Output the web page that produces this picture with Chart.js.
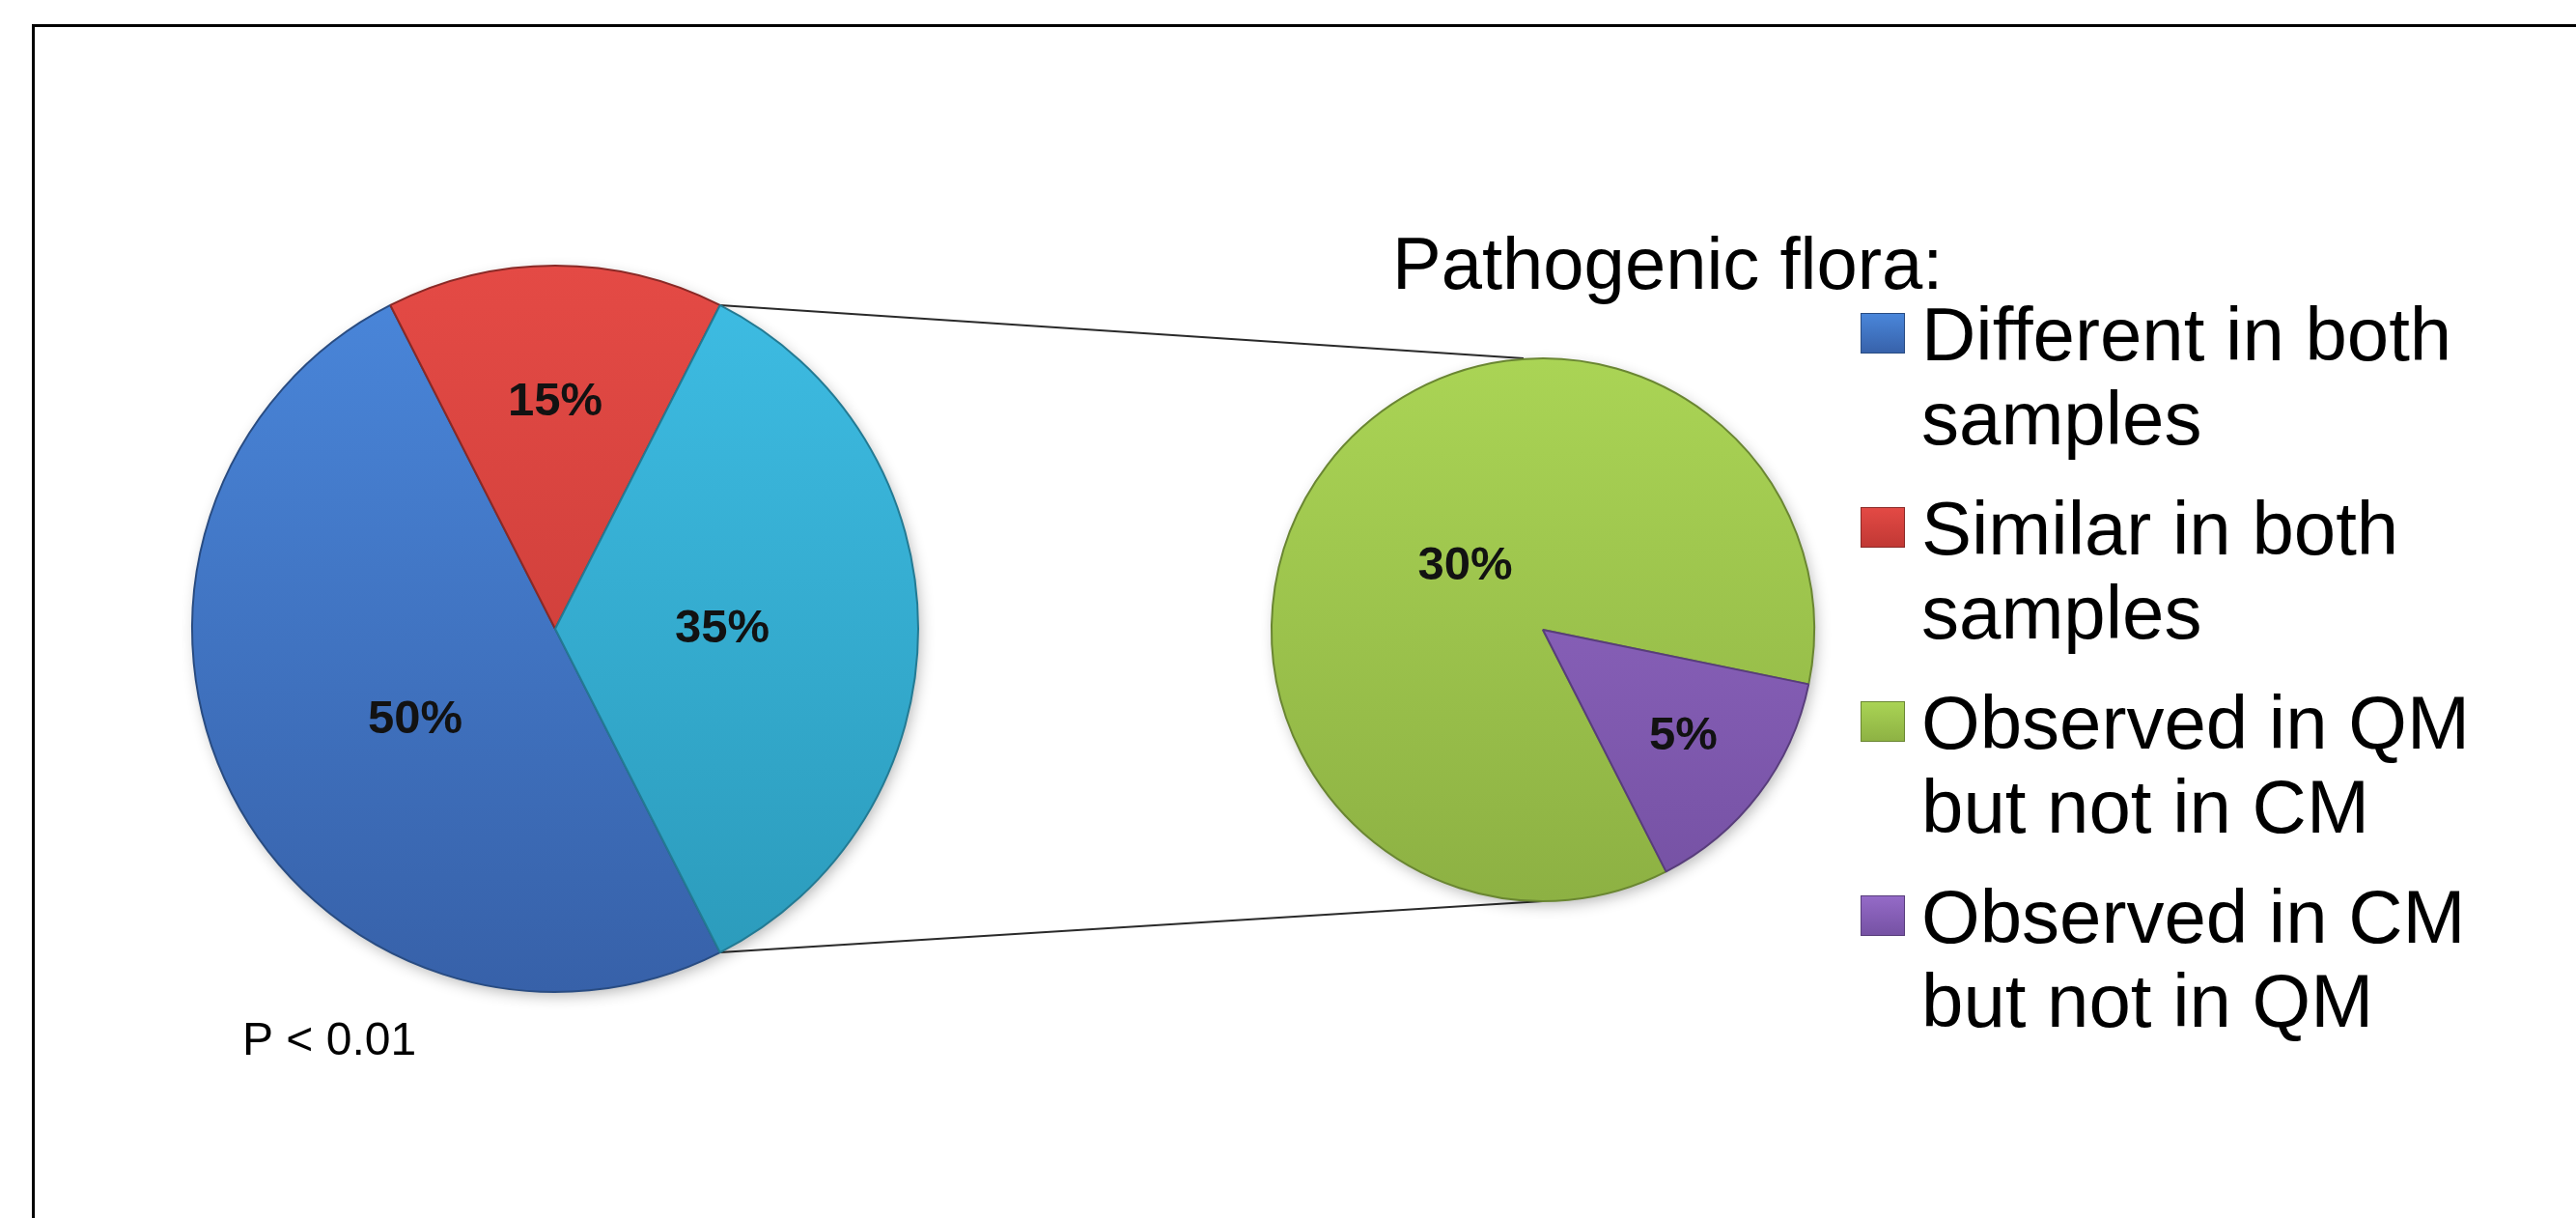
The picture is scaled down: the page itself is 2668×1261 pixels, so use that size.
<!DOCTYPE html>
<html>
<head>
<meta charset="utf-8">
<title>Pathogenic flora</title>
<script src="https://cdn.jsdelivr.net/npm/chart.js@4.4.1/dist/chart.umd.min.js"></script>
<style>
  html, body { margin: 0; padding: 0; background: #ffffff; }
  #page { position: relative; width: 2668px; height: 1261px; overflow: hidden; background: #ffffff; }
  #frame { position: absolute; left: 33px; top: 25px; right: -10px; bottom: -10px;
           border-top: 3px solid #000; border-left: 3px solid #000; }
  canvas { position: absolute; }
</style>
</head>
<body>
<div id="page">
  <div id="frame"></div>
  <canvas id="overlay" width="2668" height="1261" style="left:0;top:0"></canvas>
  <canvas id="mainPie" width="800" height="800" style="left:175px;top:251px"></canvas>
  <canvas id="subPie" width="600" height="600" style="left:1298px;top:352px"></canvas>
</div>
<script>
// ---- data ----
const mainLabels = ['Different in both samples', 'Similar in both samples', 'Other'];
const mainValues = [50, 15, 35];
const subLabels = ['Observed in QM but not in CM', 'Observed in CM but not in QM'];
const subValues = [30, 5];
const legendLines = [
  ['Different in both', 'samples'],
  ['Similar in both', 'samples'],
  ['Observed in QM', 'but not in CM'],
  ['Observed in CM', 'but not in QM']
];
const titleText = 'Pathogenic flora:';
const noteText = 'P < 0.01';

// ---- styles ----
const FONT = '"Liberation Sans", Arial, Helvetica, sans-serif';
// [light, dark, edge] per slice
const mainPalette = [
  ['#4a87db', '#3761a9', '#294c82'],
  ['#e44a45', '#c03834', '#8a2926'],
  ['#3ebde4', '#2b9aba', '#237a93']
];
const subPalette = [
  ['#aad455', '#8db143', '#6a8632'],
  ['#956bc8', '#7551a3', '#583d7b']
];
// label placement: fraction of the radius, and a small turn (degrees) from the slice middle
const mainLabelDepth = [0.46, 0.625, 0.46];
const mainLabelTurn = [-6, 0, 0];
const subLabelDepth = [0.37, 0.65];
const subLabelTurn = [2, 0];

function gradientFill(palette, radius) {
  return (c) => {
    const chart = c.chart;
    const area = chart.chartArea;
    const p = palette[c.dataIndex % palette.length];
    if (!area) return p[0];
    const cy = (area.top + area.bottom) / 2;
    const g = chart.ctx.createLinearGradient(0, cy - radius, 0, cy + radius);
    g.addColorStop(0, p[0]);
    g.addColorStop(1, p[1]);
    return g;
  };
}

// soft drop shadow behind the whole pie
const pieShadow = {
  id: 'pieShadow',
  beforeDatasetsDraw(chart) {
    const arc = chart.getDatasetMeta(0).data[0];
    if (!arc) return;
    const ctx = chart.ctx;
    ctx.save();
    ctx.shadowColor = 'rgba(0,0,0,0.32)';
    ctx.shadowBlur = 16;
    ctx.shadowOffsetX = 3;
    ctx.shadowOffsetY = 5;
    ctx.beginPath();
    ctx.arc(arc.x, arc.y, arc.outerRadius - 2, 0, Math.PI * 2);
    ctx.fillStyle = '#777';
    ctx.fill();
    ctx.restore();
  }
};

// percentage labels placed inside each slice
const sliceLabels = {
  id: 'sliceLabels',
  afterDatasetsDraw(chart, args, opts) {
    const meta = chart.getDatasetMeta(0);
    const values = chart.data.datasets[0].data;
    const ctx = chart.ctx;
    ctx.save();
    ctx.font = opts.font;
    ctx.fillStyle = opts.color;
    ctx.textAlign = 'center';
    ctx.textBaseline = 'middle';
    meta.data.forEach((arc, i) => {
      const p = arc.getProps(['x', 'y', 'startAngle', 'endAngle', 'outerRadius'], true);
      const mid = (p.startAngle + p.endAngle) / 2 + opts.turn[i] * Math.PI / 180;
      const r = p.outerRadius * opts.depth[i];
      ctx.fillText(values[i] + '%', p.x + Math.cos(mid) * r, p.y + Math.sin(mid) * r);
    });
    ctx.restore();
  }
};

function pieConfig(labels, values, palette, radius, depth, turn) {
  return {
    type: 'pie',
    data: {
      labels: labels,
      datasets: [{
        data: values,
        backgroundColor: gradientFill(palette, radius),
        borderColor: palette.map(p => p[2]),
        borderWidth: 2
      }]
    },
    options: {
      responsive: false,
      animation: false,
      events: [],
      rotation: 153,
      radius: radius,
      layout: { padding: 0 },
      plugins: {
        legend: { display: false },
        tooltip: { enabled: false },
        sliceLabels: { font: 'bold 49px ' + FONT, color: '#121212', depth: depth, turn: turn }
      }
    },
    plugins: [pieShadow, sliceLabels]
  };
}

const mainChart = new Chart(document.getElementById('mainPie'),
  pieConfig(mainLabels, mainValues, mainPalette, 376, mainLabelDepth, mainLabelTurn));
const subChart = new Chart(document.getElementById('subPie'),
  pieConfig(subLabels, subValues, subPalette, 281, subLabelDepth, subLabelTurn));

// ---- connectors, title, legend and note ----
function pagePoint(chart, x, y) {
  const c = chart.canvas;
  return [c.offsetLeft + x, c.offsetTop + y];
}

function drawOverlay() {
  const ctx = document.getElementById('overlay').getContext('2d');

  // lines from the split-off slice to the secondary pie
  const other = mainChart.getDatasetMeta(0).data[2];
  const a = other.getProps(['x', 'y', 'startAngle', 'endAngle', 'outerRadius'], true);
  const sub = subChart.getDatasetMeta(0).data[0];
  const b = sub.getProps(['x', 'y', 'outerRadius'], true);
  const p1 = pagePoint(mainChart, a.x + Math.cos(a.startAngle) * a.outerRadius, a.y + Math.sin(a.startAngle) * a.outerRadius);
  const p2 = pagePoint(mainChart, a.x + Math.cos(a.endAngle) * a.outerRadius, a.y + Math.sin(a.endAngle) * a.outerRadius);
  const q1 = pagePoint(subChart, b.x - 20, b.y - b.outerRadius);
  const q2 = pagePoint(subChart, b.x, b.y + b.outerRadius);
  ctx.save();
  ctx.strokeStyle = '#2a2a2a';
  ctx.lineWidth = 2;
  ctx.beginPath();
  ctx.moveTo(p1[0], p1[1]); ctx.lineTo(q1[0], q1[1]);
  ctx.moveTo(p2[0], p2[1]); ctx.lineTo(q2[0], q2[1]);
  ctx.stroke();
  ctx.restore();

  // title
  ctx.fillStyle = '#000';
  ctx.textBaseline = 'alphabetic';
  ctx.textAlign = 'left';
  ctx.font = '76px ' + FONT;
  ctx.fillText(titleText, 1442, 299);

  // legend
  const swatches = mainPalette.slice(0, 2).concat(subPalette);
  ctx.font = '78px ' + FONT;
  legendLines.forEach((lines, i) => {
    const base = 373 + i * 201;
    const sw = swatches[i];
    const g = ctx.createLinearGradient(0, base - 49, 0, base - 7);
    g.addColorStop(0, sw[0]);
    g.addColorStop(1, sw[1]);
    ctx.fillStyle = g;
    ctx.fillRect(1927, base - 49, 46, 42);
    ctx.strokeStyle = sw[2];
    ctx.lineWidth = 1;
    ctx.strokeRect(1927.5, base - 48.5, 45, 41);
    ctx.fillStyle = '#000';
    lines.forEach((t, j) => ctx.fillText(t, 1990, base + j * 87));
  });

  // significance note
  ctx.font = '48px ' + FONT;
  ctx.fillText(noteText, 251, 1092);
}
drawOverlay();
</script>
</body>
</html>
